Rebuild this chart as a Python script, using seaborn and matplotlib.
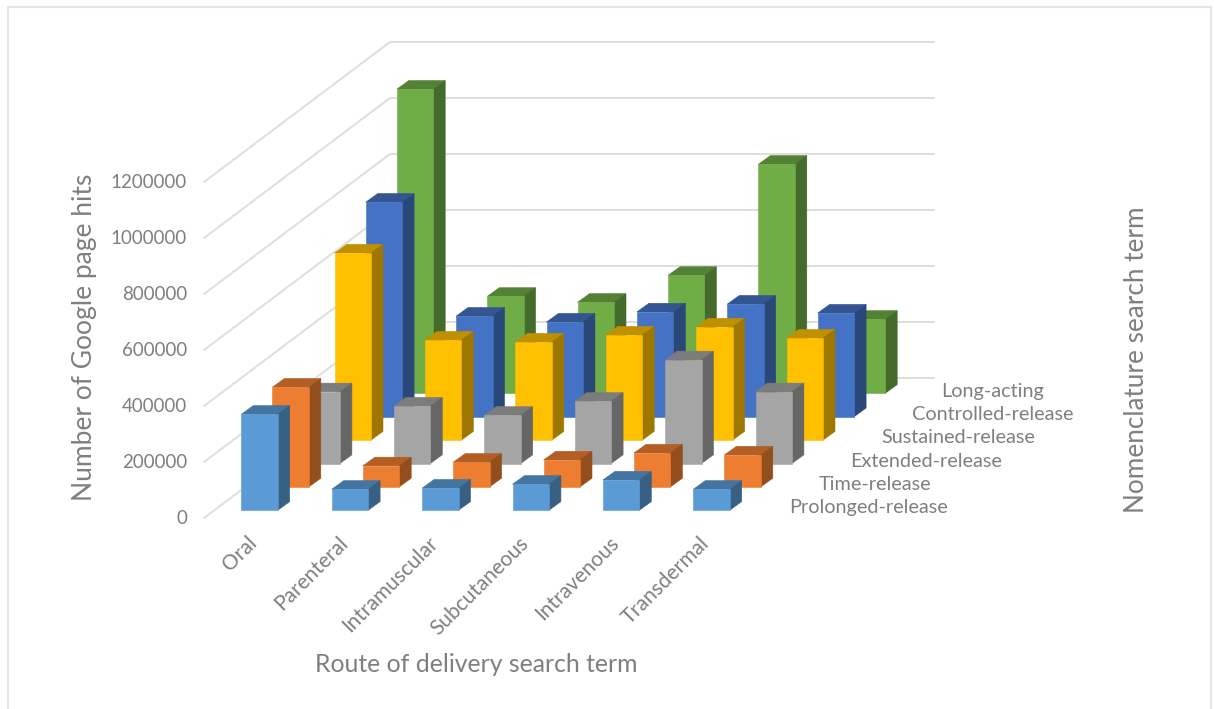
import numpy as np
import matplotlib
matplotlib.use("Agg")
import matplotlib.pyplot as plt
import seaborn as sns

routes = ["Oral", "Parenteral", "Intramuscular", "Subcutaneous", "Intravenous", "Transdermal"]
terms = ["Prolonged-release", "Time-release", "Extended-release", "Sustained-release", "Controlled-release", "Long-acting"]
prolonged = [343000, 75000, 79000, 93000, 108000, 75000]
time_rel = [356000, 75000, 88000, 96000, 121000, 114000]
extended = [256000, 205000, 172000, 222000, 370000, 256000]
sustained = [668000, 357000, 350000, 375000, 404000, 364000]
controlled = [766000, 359000, 338000, 374000, 402000, 370000]
long_acting = [1086000, 346000, 325000, 421000, 818000, 264000]
y_ticks = [0, 200000, 400000, 600000, 800000, 1000000, 1200000]
series = [prolonged, time_rel, extended, sustained, controlled, long_acting]
colors = sns.color_palette(["#5B9BD5", "#ED7D31", "#A5A5A5", "#FFC000", "#4472C4", "#70AD47"])

sns.set_theme(style="white")
plt.rcParams["font.family"] = ["Lato", "DejaVu Sans"]
TXT = "#7F7F7F"

fig = plt.figure(figsize=(12.14, 7.09), dpi=100)
ax = fig.add_axes([0, 0, 1, 1])
ax.set_xlim(0, 1214)
ax.set_ylim(709, 0)
ax.axis("off")

# oblique projection of the chart's 3D space onto figure pixels
PX_PER_UNIT = 56.0 / 200000
COL_DX, ROW_DX, ROW_DY = 90.4, 31.1, 23.4
X0, Y0, BAR_W, DEPTH_X, DEPTH_Y = 241.3, 510.3, 36.4, 12.0, 8.7


def shade(c, f):
    return tuple(v * f for v in c)


def project(col, row, val):
    return (X0 + col * COL_DX + row * ROW_DX, Y0 - row * ROW_DY - val * PX_PER_UNIT)


# walls: gridlines
for t in y_ticks:
    h = t * PX_PER_UNIT
    ax.plot([204, 390, 934], [518 - h, 378 - h, 378 - h], color="#DEDEDE", lw=1.4, zorder=1,
            solid_capstyle="round", solid_joinstyle="miter")
    ax.text(187, 518 - h, str(t), ha="right", va="center", fontsize=13.5, color=TXT)

# bars, back to front
z = 2
for r in range(len(series) - 1, -1, -1):
    for c in range(len(routes) - 1, -1, -1):
        v = series[r][c]
        x, y = project(c, r, v)
        xb, yb = project(c, r, 0)
        col = colors[r]
        ax.fill([x, x + BAR_W, x + BAR_W + DEPTH_X, x + DEPTH_X], [y, y, y - DEPTH_Y, y - DEPTH_Y],
                color=shade(col, 0.75), lw=0.4, zorder=z)
        ax.fill([x + BAR_W, x + BAR_W + DEPTH_X, x + BAR_W + DEPTH_X, x + BAR_W],
                [y, y - DEPTH_Y, yb - DEPTH_Y, yb], color=shade(col, 0.62), lw=0.4, zorder=z)
        ax.fill([x, x + BAR_W, x + BAR_W, x], [y, y, yb, yb], color=col, lw=0.4, zorder=z + 0.1)
    z += 1

# category labels
for c, name in enumerate(routes):
    ax.text(247 + c * COL_DX, 533, name, rotation=45, ha="right", va="top", rotation_mode="anchor",
            fontsize=15, color=TXT)

# depth labels
for r, (name, lx) in enumerate(zip(terms, [789, 819, 850, 881, 912, 941])):
    ax.text(lx, 508 - r * 23.4, name, ha="left", va="center", fontsize=14.3, color=TXT)

# axis titles
ax.text(85, 337, "Number of Google page hits", rotation=90, ha="center", va="center", fontsize=19, color=TXT)
ax.text(476, 664, "Route of delivery search term", ha="center", va="center", fontsize=17.8, color=TXT)
ax.text(1136, 360, "Nomenclature search term", rotation=90, ha="center", va="center", fontsize=18.8, color=TXT)

# chart frame
ax.plot([8, 8, 1211, 1211], [709, 6.5, 6.5, 709], color="#E6E6E6", lw=1.5, zorder=0)

fig.savefig("out.png", dpi=100, facecolor="white")
